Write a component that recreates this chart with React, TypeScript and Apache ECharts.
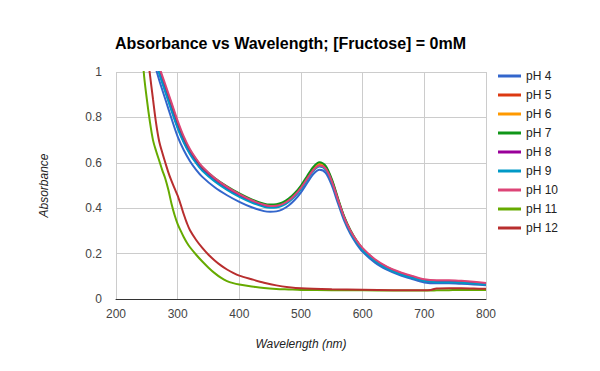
import React, { useEffect, useRef } from "react";
import * as echarts from "echarts";

const TITLE = "Absorbance vs Wavelength; [Fructose] = 0mM";
const X_NAME = "Wavelength (nm)";
const Y_NAME = "Absorbance";

const SERIES_NAMES = ["pH 4", "pH 5", "pH 6", "pH 7", "pH 8", "pH 9", "pH 10", "pH 11", "pH 12"];
const COLORS = ["#3366cc", "#dc3912", "#ff9900", "#109618", "#990099", "#0099c6", "#dd4477", "#66aa00", "#b82e2e"];

// wavelengths for the pH 4 – pH 10 measurements
const W_ACID = [260, 270, 280, 290, 300, 310, 320, 330, 340, 360, 380, 400, 420, 440, 450, 460, 470, 480, 490, 500, 510, 520, 530, 540, 550, 560, 570, 580, 590, 600, 620, 640, 660, 680, 700, 720, 740, 760, 780, 800];

const PH4 = [1.06, 0.965, 0.88, 0.795, 0.715, 0.655, 0.607, 0.569, 0.538, 0.492, 0.457, 0.428, 0.404, 0.387, 0.384, 0.386, 0.395, 0.412, 0.437, 0.47, 0.511, 0.55, 0.569, 0.556, 0.5, 0.421, 0.345, 0.287, 0.243, 0.208, 0.16, 0.128, 0.105, 0.088, 0.073, 0.069, 0.069, 0.067, 0.064, 0.061];
const PH5 = [1.11, 1.005, 0.925, 0.845, 0.765, 0.698, 0.646, 0.606, 0.572, 0.526, 0.489, 0.458, 0.432, 0.413, 0.409, 0.41, 0.418, 0.434, 0.458, 0.49, 0.531, 0.57, 0.59, 0.576, 0.519, 0.437, 0.359, 0.3, 0.254, 0.219, 0.169, 0.136, 0.113, 0.096, 0.081, 0.076, 0.076, 0.074, 0.07, 0.065];
const PH6 = [1.12, 1.012, 0.932, 0.852, 0.772, 0.704, 0.651, 0.611, 0.577, 0.53, 0.493, 0.462, 0.436, 0.417, 0.413, 0.414, 0.422, 0.439, 0.463, 0.496, 0.537, 0.576, 0.596, 0.582, 0.524, 0.441, 0.362, 0.302, 0.256, 0.22, 0.17, 0.137, 0.114, 0.097, 0.082, 0.077, 0.077, 0.075, 0.071, 0.066];
const PH7 = [1.12, 1.015, 0.935, 0.855, 0.775, 0.707, 0.654, 0.614, 0.58, 0.533, 0.496, 0.465, 0.439, 0.42, 0.416, 0.417, 0.425, 0.442, 0.467, 0.5, 0.542, 0.582, 0.602, 0.587, 0.528, 0.444, 0.364, 0.304, 0.258, 0.222, 0.172, 0.139, 0.116, 0.099, 0.084, 0.079, 0.079, 0.077, 0.073, 0.068];
const PH8 = [1.105, 1.0, 0.917, 0.835, 0.757, 0.692, 0.642, 0.602, 0.569, 0.522, 0.485, 0.454, 0.429, 0.41, 0.406, 0.407, 0.415, 0.431, 0.455, 0.487, 0.528, 0.567, 0.587, 0.573, 0.516, 0.435, 0.357, 0.297, 0.252, 0.217, 0.168, 0.135, 0.112, 0.095, 0.08, 0.075, 0.075, 0.073, 0.069, 0.065];
const PH9 = [1.1, 0.995, 0.912, 0.83, 0.752, 0.688, 0.638, 0.598, 0.565, 0.518, 0.481, 0.45, 0.425, 0.406, 0.402, 0.403, 0.411, 0.428, 0.452, 0.484, 0.525, 0.564, 0.584, 0.57, 0.513, 0.432, 0.354, 0.295, 0.25, 0.215, 0.166, 0.133, 0.11, 0.093, 0.079, 0.074, 0.074, 0.072, 0.068, 0.064];
const PH10 = [1.13, 1.025, 0.945, 0.865, 0.785, 0.715, 0.66, 0.618, 0.583, 0.533, 0.494, 0.462, 0.435, 0.415, 0.41, 0.411, 0.418, 0.434, 0.458, 0.49, 0.53, 0.568, 0.588, 0.574, 0.518, 0.437, 0.36, 0.302, 0.258, 0.224, 0.175, 0.142, 0.119, 0.102, 0.087, 0.083, 0.083, 0.08, 0.076, 0.071];

// wavelengths for the pH 11 – pH 12 measurements
const W_BASE = [240, 245, 250, 255, 260, 265, 270, 275, 280, 285, 290, 295, 300, 305, 310, 315, 320, 330, 340, 350, 360, 370, 380, 390, 400, 420, 440, 460, 480, 500, 550, 600, 650, 700, 710, 720, 740, 760, 780, 800];

const PH11 = [1.25, 1.0, 0.88, 0.78, 0.7, 0.652, 0.61, 0.568, 0.53, 0.48, 0.42, 0.37, 0.33, 0.3, 0.272, 0.248, 0.228, 0.195, 0.165, 0.138, 0.114, 0.094, 0.079, 0.07, 0.064, 0.055, 0.048, 0.044, 0.042, 0.04, 0.039, 0.038, 0.037, 0.037, 0.037, 0.038, 0.039, 0.04, 0.04, 0.04];
const PH12 = [1.4, 1.22, 1.1, 0.99, 0.88, 0.775, 0.695, 0.645, 0.6, 0.557, 0.52, 0.487, 0.455, 0.415, 0.372, 0.334, 0.303, 0.26, 0.225, 0.195, 0.17, 0.148, 0.13, 0.115, 0.103, 0.087, 0.072, 0.06, 0.052, 0.047, 0.043, 0.041, 0.039, 0.038, 0.04, 0.046, 0.047, 0.047, 0.046, 0.045];

const X_TICKS = { min: 200, max: 800, interval: 100 };
const Y_TICKS = { min: 0, max: 1, interval: 0.2 };

const SERIES_X = [W_ACID, W_ACID, W_ACID, W_ACID, W_ACID, W_ACID, W_ACID, W_BASE, W_BASE];
const SERIES_Y = [PH4, PH5, PH6, PH7, PH8, PH9, PH10, PH11, PH12];

const FONT = "Arial, 'Liberation Sans', sans-serif";

export default function App() {
  const ref = useRef<HTMLDivElement>(null);
  useEffect(() => {
    if (!ref.current) return;
    const chart = echarts.init(ref.current, undefined, { renderer: "svg" });
    chart.setOption({
      animation: false,
      backgroundColor: "#ffffff",
      textStyle: { fontFamily: FONT },
      title: {
        text: TITLE,
        left: 115,
        top: 35,
        padding: 0,
        textStyle: { fontFamily: FONT, fontSize: 16, fontWeight: "bold", color: "#000000" },
      },
      legend: {
        orient: "vertical",
        left: 498,
        top: 70,
        padding: 0,
        itemWidth: 23,
        itemHeight: 3,
        itemGap: 7,
        icon: "rect",
        data: SERIES_NAMES,
        textStyle: { fontFamily: FONT, fontSize: 12, color: "#222222" },
      },
      grid: { left: 116, right: 114, top: 72, bottom: 72, containLabel: false },
      xAxis: {
        type: "value",
        min: X_TICKS.min,
        max: X_TICKS.max,
        interval: X_TICKS.interval,
        name: X_NAME,
        nameLocation: "middle",
        nameGap: 39,
        nameTextStyle: { fontFamily: FONT, fontSize: 12, fontStyle: "italic", color: "#222222" },
        axisLine: { show: true, lineStyle: { color: "#333333", width: 1 } },
        axisTick: { show: false },
        axisLabel: { fontFamily: FONT, fontSize: 12, color: "#444444", margin: 9 },
        splitLine: { show: true, lineStyle: { color: "#cccccc", width: 1 } },
      },
      yAxis: {
        type: "value",
        min: Y_TICKS.min,
        max: Y_TICKS.max,
        interval: Y_TICKS.interval,
        name: Y_NAME,
        nameLocation: "middle",
        nameGap: 66,
        nameRotate: 90,
        nameTextStyle: { fontFamily: FONT, fontSize: 12, fontStyle: "italic", color: "#222222" },
        axisLine: { show: false },
        axisTick: { show: false },
        axisLabel: { fontFamily: FONT, fontSize: 12, color: "#444444", margin: 14 },
        splitLine: { show: true, lineStyle: { color: "#cccccc", width: 1 } },
      },
      series: SERIES_NAMES.map((name, i) => ({
        name,
        type: "line",
        data: SERIES_X[i].map((x, j) => [x, SERIES_Y[i][j]]),
        showSymbol: false,
        symbol: "none",
        smooth: 0.3,
        clip: true,
        color: COLORS[i],
        lineStyle: { color: COLORS[i], width: 2 },
      })),
    });
    return () => chart.dispose();
  }, []);
  return <div ref={ref} style={{ width: 600, height: 371, margin: -8 }} />;
}
